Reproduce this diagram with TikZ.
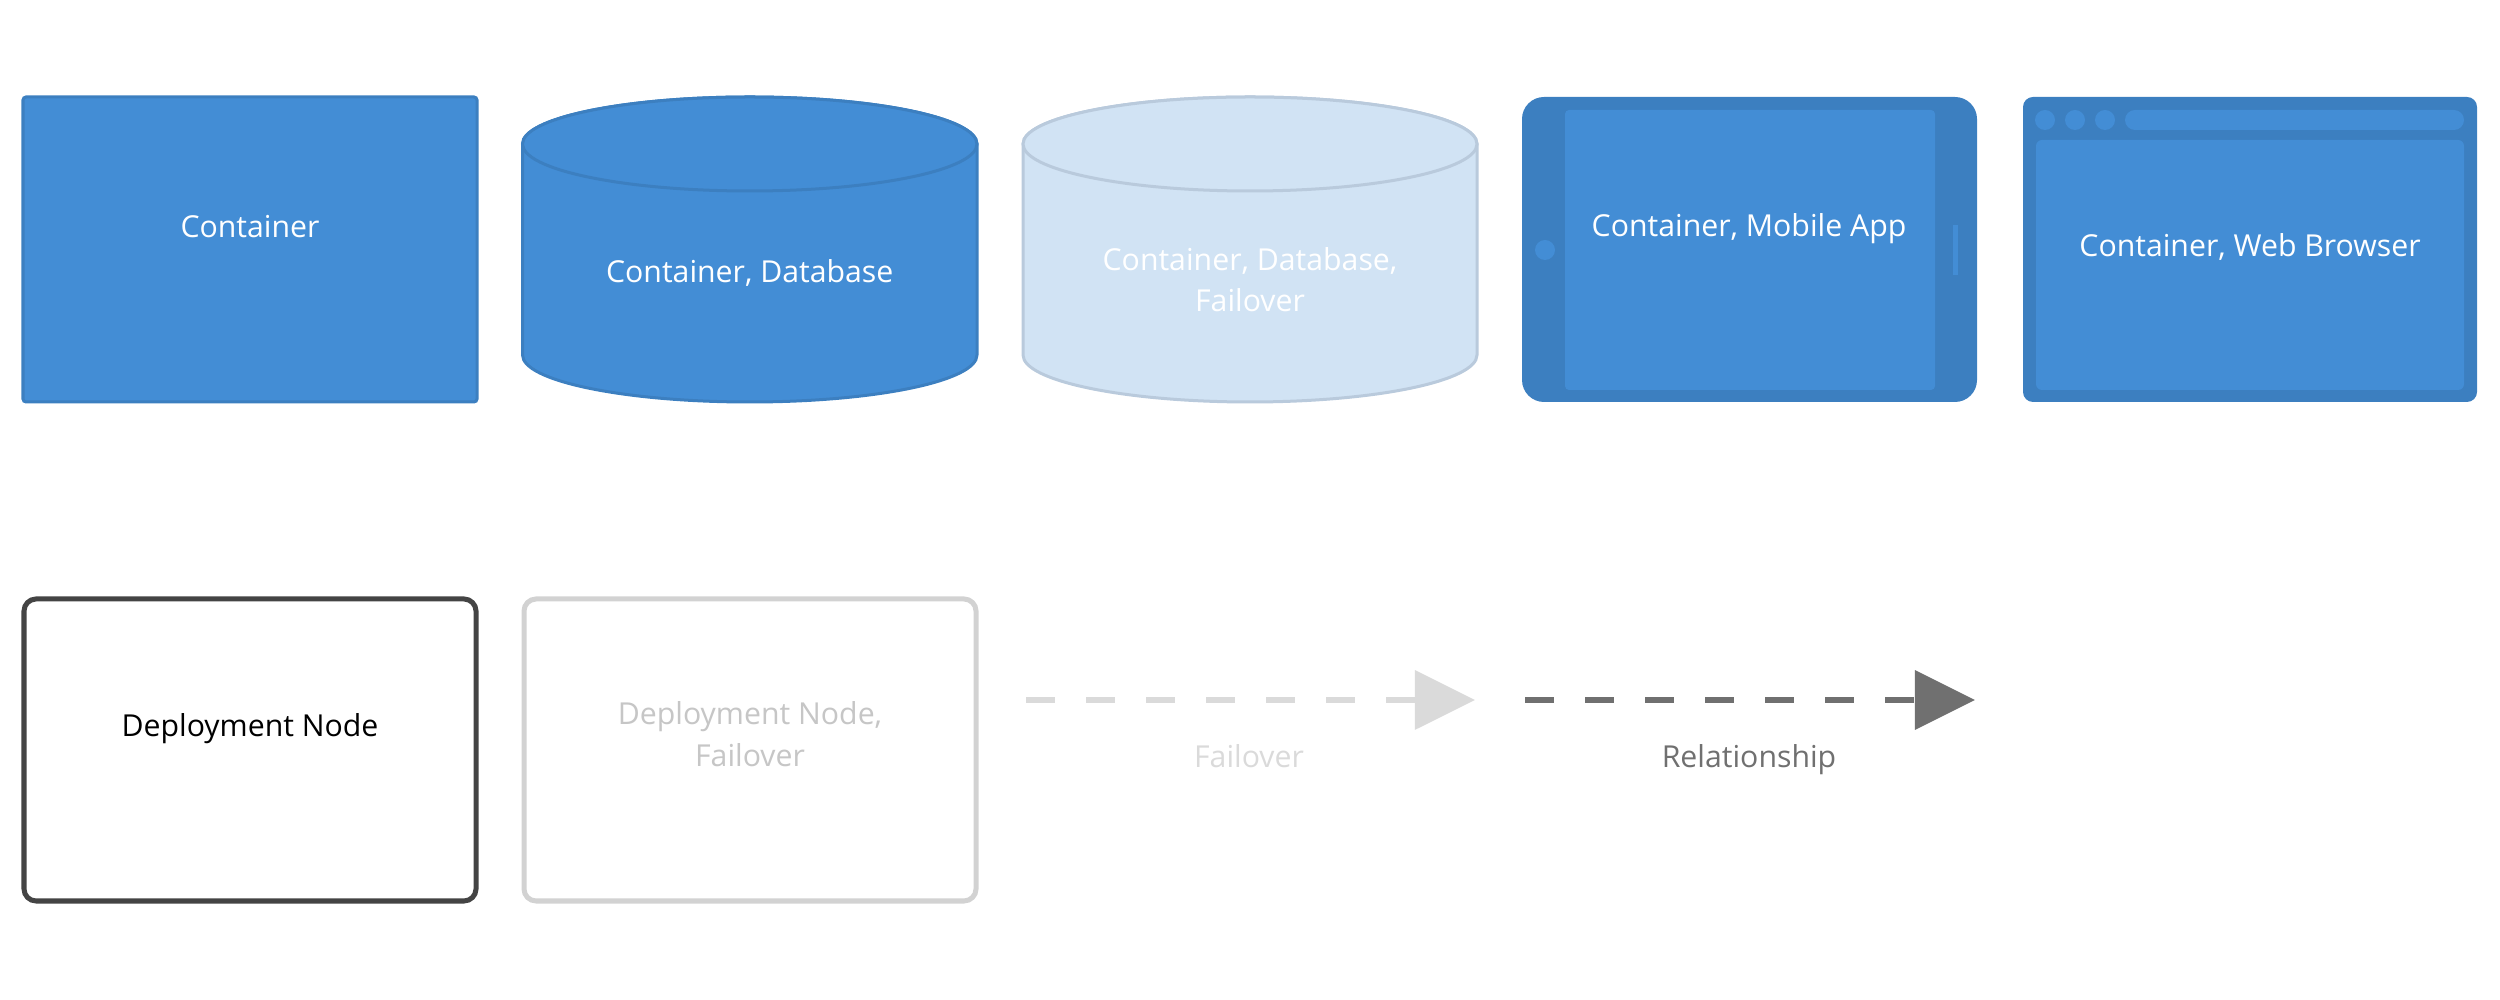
\documentclass[tikz,border=0pt]{standalone}
\usepackage{fontspec}
\setmainfont{Open Sans}
\usetikzlibrary{arrows.meta}
\definecolor{cfill}{HTML}{438DD5}
\definecolor{cborder}{HTML}{3C7FC0}
\definecolor{ffill}{HTML}{D1E3F4}
\definecolor{fborder}{HTML}{B9CADC}
\definecolor{dnode}{HTML}{444444}
\definecolor{dfail}{HTML}{D2D2D2}
\definecolor{dfailtext}{HTML}{C6C6C6}
\definecolor{arrfail}{HTML}{DADADA}
\definecolor{arrrel}{HTML}{707070}
\tikzset{
  lbl/.style={anchor=base, inner sep=0pt, font=\fontsize{8.6}{11}\selectfont},
  containerbox/.style={fill=cfill, draw=cborder, line width=0.03cm},
  failbox/.style={fill=ffill, draw=fborder, line width=0.03cm},
  devicebody/.style={fill=cborder, draw=none},
  screen/.style={fill=cfill, draw=none},
  dnodebox/.style={draw=dnode, fill=white, line width=0.05cm, rounded corners=0.12cm},
  dfailbox/.style={draw=dfail, fill=white, line width=0.05cm, rounded corners=0.12cm},
  relarrow/.style={line width=0.065cm, dash pattern=on 0.29cm off 0.31cm, -{Triangle[length=0.6cm, width=0.58cm]}},
}
\begin{document}
\begin{tikzpicture}[x=0.01cm, y=0.01cm]
\useasboundingbox (0,0) rectangle (2500,1000);

% Container
\draw[containerbox, rounded corners=0.03cm] (23,598) rectangle (477,903);
\node[lbl, text=white] (tcont) at (250,762) {Container};

% Database
\draw[containerbox] (522.5,856) -- (522.5,645)
  arc[start angle=180, end angle=360, x radius=227.25, y radius=47]
  -- (977,856) arc[start angle=0, end angle=180, x radius=227.25, y radius=47] -- cycle;
\draw[containerbox] (749.75,856) ellipse[x radius=227.25, y radius=47];
\node[lbl, text=white] (tdb) at (749.75,717) {Container, Database};

% Database failover
\draw[failbox] (1023,856) -- (1023,645)
  arc[start angle=180, end angle=360, x radius=227, y radius=47]
  -- (1477,856) arc[start angle=0, end angle=180, x radius=227, y radius=47] -- cycle;
\draw[failbox] (1250,856) ellipse[x radius=227, y radius=47];
\node[lbl, text=white] (tdbf1) at (1250,729) {Container, Database,};
\node[lbl, text=white] (tdbf2) at (1250,688) {Failover};

% Mobile app
\fill[devicebody, rounded corners=0.22cm] (1522,598) rectangle (1977,903);
\fill[screen, rounded corners=0.04cm] (1565,610) rectangle (1935,890);
\fill[screen] (1545,750) circle[radius=10];
\fill[screen] (1953,725) rectangle (1958,775);
\node[lbl, text=white] (tmob) at (1749,763) {Container, Mobile App};

% Web browser
\fill[devicebody, rounded corners=0.1cm] (2023,598) rectangle (2477,903);
\fill[screen] (2045,880) circle[radius=10];
\fill[screen] (2075,880) circle[radius=10];
\fill[screen] (2105,880) circle[radius=10];
\fill[screen, rounded corners=0.1cm] (2125,870) rectangle (2464,890);
\fill[screen, rounded corners=0.06cm] (2036,610) rectangle (2464,860);
\node[lbl, text=white] (tweb) at (2250,743) {Container, Web Browser};

% Deployment nodes
\draw[dnodebox] (24,99) rectangle (476,401);
\node[lbl, text=black] (tdn) at (250,263) {Deployment Node};
\draw[dfailbox] (524,99) rectangle (976,401);
\node[lbl, text=dfailtext] (tdnf1) at (750,275) {Deployment Node,};
\node[lbl, text=dfailtext] (tdnf2) at (750,233) {Failover};

% Arrows
\coordinate (fa) at (1026,300);
\coordinate (fb) at (1475,300);
\draw[relarrow, draw=arrfail] (fa) -- (fb);
\node[lbl, text=arrfail] (tfail) at (1249,232) {Failover};

\coordinate (ra) at (1525,300);
\coordinate (rb) at (1975,300);
\draw[relarrow, draw=arrrel] (ra) -- (rb);
\node[lbl, text=arrrel] (trel) at (1749,232) {Relationship};
\end{tikzpicture}
\end{document}
